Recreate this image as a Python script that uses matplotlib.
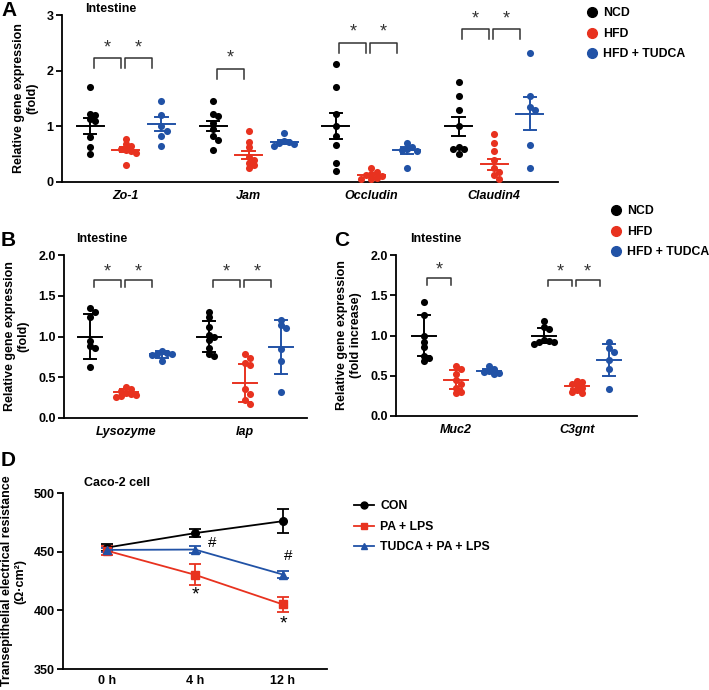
import numpy as np
import matplotlib
matplotlib.use("Agg")
import matplotlib.pyplot as plt
from matplotlib.lines import Line2D

plt.rcParams['font.family'] = ['Liberation Sans', 'DejaVu Sans']
plt.rcParams['font.weight'] = 'bold'
plt.rcParams['axes.labelweight'] = 'bold'

BLACK = '#000000'
RED = '#E8321F'
BLUE = '#2152A6'
GROUP_COLORS = [BLACK, RED, BLUE]
GROUP_NAMES = ['NCD', 'HFD', 'HFD + TUDCA']
FS = 9
LFS = 8.8

# ---- panel A (mean +/- SEM) ----
a_genes = ['Zo-1', 'Jam', 'Occludin', 'Claudin4']
a_ncd = [[1.70, 1.22, 1.20, 1.13, 1.10, 0.80, 0.62, 0.50],
         [1.46, 1.22, 1.18, 1.06, 0.96, 0.82, 0.75, 0.58],
         [2.12, 1.70, 1.22, 1.00, 0.82, 0.67, 0.35, 0.20],
         [1.80, 1.55, 1.30, 1.00, 0.62, 0.60, 0.60, 0.50]]
a_hfd = [[0.77, 0.68, 0.65, 0.60, 0.58, 0.55, 0.52, 0.30],
         [0.92, 0.72, 0.62, 0.45, 0.40, 0.35, 0.30, 0.25],
         [0.25, 0.18, 0.15, 0.12, 0.10, 0.08, 0.06, 0.05],
         [0.86, 0.70, 0.55, 0.40, 0.25, 0.18, 0.12, 0.05]]
a_tud = [[1.46, 1.20, 1.00, 0.92, 0.82, 0.65],
         [0.88, 0.73, 0.72, 0.70, 0.68, 0.65],
         [0.70, 0.62, 0.60, 0.58, 0.55, 0.25],
         [2.32, 1.55, 1.35, 1.30, 0.67, 0.25]]
a_mean = [[1.01, 0.58, 1.04], [1.00, 0.48, 0.72], [1.01, 0.12, 0.57], [1.00, 0.32, 1.23]]
a_err = [[0.14, 0.05, 0.12], [0.09, 0.07, 0.03], [0.23, 0.03, 0.06], [0.17, 0.10, 0.30]]
a_sig = [[True, True], [True, False], [True, True], [True, True]]
a_bracket_y = [2.22, 2.03, 2.50, 2.74]

# ---- panel B (mean +/- SD) ----
b_genes = ['Lysozyme', 'Iap']
b_ncd = [[1.35, 1.30, 1.24, 0.95, 0.88, 0.86, 0.62],
         [1.30, 1.24, 1.12, 1.02, 1.00, 0.96, 0.86, 0.78, 0.76]]
b_hfd = [[0.38, 0.36, 0.33, 0.31, 0.30, 0.28, 0.27, 0.26],
         [0.78, 0.74, 0.67, 0.65, 0.35, 0.30, 0.22, 0.17]]
b_tud = [[0.82, 0.80, 0.79, 0.78, 0.77, 0.70],
         [1.20, 1.14, 1.10, 0.85, 0.70, 0.32]]
b_mean = [[1.00, 0.32, 0.78], [1.00, 0.43, 0.87]]
b_err = [[0.27, 0.04, 0.04], [0.19, 0.23, 0.33]]
b_sig = [[True, True], [True, True]]
b_bracket_y = [1.69, 1.69]

# ---- panel C (mean +/- SD) ----
c_genes = ['Muc2', 'C3gnt']
c_ncd = [[1.42, 1.25, 1.00, 0.92, 0.86, 0.75, 0.72, 0.68],
         [1.18, 1.10, 1.08, 0.95, 0.93, 0.92, 0.92, 0.90]]
c_hfd = [[0.62, 0.58, 0.52, 0.45, 0.40, 0.35, 0.30, 0.28],
         [0.44, 0.42, 0.40, 0.38, 0.35, 0.32, 0.30, 0.28]]
c_tud = [[0.62, 0.58, 0.56, 0.55, 0.54, 0.52],
         [0.92, 0.84, 0.80, 0.70, 0.58, 0.34]]
c_mean = [[1.00, 0.45, 0.56], [1.00, 0.37, 0.70]]
c_err = [[0.25, 0.12, 0.03], [0.09, 0.04, 0.20]]
c_sig = [[True, False], [True, True]]
c_bracket_y = [1.71, 1.69]

# ---- panel D (TEER) ----
d_times = ['0 h', '4 h', '12 h']
d_con = [453.5, 465.8, 476.0]
d_con_err = [3.0, 3.5, 10.0]
d_pa = [450.8, 430.3, 405.0]
d_pa_err = [4.0, 9.0, 6.0]
d_tud = [451.5, 451.8, 430.5]
d_tud_err = [2.0, 3.0, 3.0]


def swarm(vals, px_per_y, px_per_x, d=5.0):
    # simple beeswarm, dots may overlap a little like in Prism
    order = np.argsort(vals)[::-1]
    placed = []
    offs = np.zeros(len(vals))
    for i in order:
        y = vals[i] * px_per_y
        for k in range(0, 20):
            cand = 0 if k == 0 else ((k + 1) // 2) * d * (1 if k % 2 else -1)
            ok = all((cand - px) ** 2 + (y - py) ** 2 >= (d * 0.9) ** 2 for px, py in placed)
            if ok:
                break
        placed.append((cand, y))
        offs[i] = cand / px_per_x
    return offs


def dot_panel(ax, genes, ncd, hfd, tud, means, errs, sig, br_y, px_y, star_dy, br_leg,
              spread=0.29, mean_w=0.11, cap_w=0.05):
    groups = [ncd, hfd, tud]
    for gi in range(len(genes)):
        for k in range(3):
            x0 = gi + (k - 1) * spread
            vals = np.array(groups[k][gi])
            xs = x0 + swarm(vals, px_y, 120)
            ax.scatter(xs, vals, s=26, color=GROUP_COLORS[k], zorder=3, linewidths=0)
            m = means[gi][k]
            e = errs[gi][k]
            ax.plot([x0 - mean_w, x0 + mean_w], [m, m], color=GROUP_COLORS[k], lw=1.4, zorder=4)
            ax.plot([x0, x0], [m - e, m + e], color=GROUP_COLORS[k], lw=1.4, zorder=4)
            for yy in (m - e, m + e):
                ax.plot([x0 - cap_w, x0 + cap_w], [yy, yy], color=GROUP_COLORS[k], lw=1.4, zorder=4)
        yb = br_y[gi]
        spans = [(gi - spread + 0.03, gi - 0.04), (gi - 0.01, gi + spread - 0.08)]
        for j, (x1, x2) in enumerate(spans):
            if not sig[gi][j]:
                continue
            ax.plot([x1, x1, x2, x2], [yb - br_leg, yb, yb, yb - br_leg], color='#333333',
                    lw=1.1, clip_on=False)
            ax.text((x1 + x2) / 2, yb + star_dy, '*', ha='center', va='center', fontsize=13,
                    fontweight='normal', color='#333333')
    ax.set_xlim(-0.52, len(genes) - 0.48)
    ax.set_xticks(range(len(genes)))
    ax.set_xticklabels(genes, fontstyle='italic', fontweight='bold', fontsize=FS)


def style(ax):
    for s in ('top', 'right'):
        ax.spines[s].set_visible(False)
    for s in ('left', 'bottom'):
        ax.spines[s].set_linewidth(1.3)
    ax.tick_params(axis='y', direction='out', length=4, width=1.3, labelsize=FS, pad=2)
    ax.tick_params(axis='x', length=0, labelsize=FS, pad=6)
    for lab in ax.get_yticklabels():
        lab.set_fontweight('bold')


fig = plt.figure(figsize=(7.09, 6.90), dpi=100)
W, H = 709, 690


def add_ax(l, t, r, b):
    return fig.add_axes([l / W, 1 - b / H, (r - l) / W, (b - t) / H])


# panel A
axA = add_ax(62, 15, 558, 182)
dot_panel(axA, a_genes, a_ncd, a_hfd, a_tud, a_mean, a_err, a_sig, a_bracket_y,
          55.7, 0.19, 0.18)
axA.set_ylim(0, 3)
axA.set_yticks([0, 1, 2, 3])
style(axA)
axA.set_ylabel('Relative gene expression\n(fold)', fontsize=FS, labelpad=6)
axA.text(0.046, 1.0, 'Intestine', transform=axA.transAxes, fontsize=FS, fontweight='bold',
         va='bottom')
legA = [Line2D([], [], marker='o', ls='', color=c, markersize=7, label=n)
        for c, n in zip(GROUP_COLORS, GROUP_NAMES)]
fig.legend(handles=legA, loc='upper left', bbox_to_anchor=(577 / W, 1 - 0 / H), frameon=False,
           fontsize=LFS, handletextpad=0.3, labelspacing=0.7, handlelength=1.2,
           borderaxespad=0.2)

# panel B
axB = add_ax(64, 255, 307, 418)
dot_panel(axB, b_genes, b_ncd, b_hfd, b_tud, b_mean, b_err, b_sig, b_bracket_y,
          81.5, 0.1, 0.08, spread=0.30, mean_w=0.1, cap_w=0.05)
axB.set_ylim(0, 2.0)
axB.set_yticks([0, 0.5, 1.0, 1.5, 2.0])
axB.set_yticklabels(['0.0', '0.5', '1.0', '1.5', '2.0'])
style(axB)
axB.set_ylabel('Relative gene expression\n(fold)', fontsize=FS, labelpad=6)
axB.text(0.05, 1.06, 'Intestine', transform=axB.transAxes, fontsize=FS, fontweight='bold',
         va='bottom')

# panel C
axC = add_ax(396, 255, 637, 416)
dot_panel(axC, c_genes, c_ncd, c_hfd, c_tud, c_mean, c_err, c_sig, c_bracket_y,
          80.3, 0.1, 0.08, spread=0.27, mean_w=0.1, cap_w=0.05)
axC.set_xlim(-0.5, 1.5)
axC.set_ylim(0, 2.0)
axC.set_yticks([0, 0.5, 1.0, 1.5, 2.0])
axC.set_yticklabels(['0.0', '0.5', '1.0', '1.5', '2.0'])
style(axC)
axC.set_ylabel('Relative gene expression\n(fold increase)', fontsize=FS, labelpad=6)
axC.text(0.06, 1.06, 'Intestine', transform=axC.transAxes, fontsize=FS, fontweight='bold',
         va='bottom')
fig.legend(handles=legA, loc='upper left', bbox_to_anchor=(601 / W, 1 - 198 / H), frameon=False,
           fontsize=LFS, handletextpad=0.3, labelspacing=0.7, handlelength=1.2,
           borderaxespad=0.2)

# panel D
axD = add_ax(63, 493, 327, 669)
xd = np.arange(len(d_times))
series = [(d_con, d_con_err, BLACK, 'o', 'CON'),
          (d_pa, d_pa_err, RED, 's', 'PA + LPS'),
          (d_tud, d_tud_err, BLUE, '^', 'TUDCA + PA + LPS')]
handles = []
for vals, errs, col, mk, name in series:
    axD.errorbar(xd, vals, yerr=errs, color=col, marker=mk, markersize=5.5, lw=1.3,
                 capsize=4, capthick=1.3, elinewidth=1.3, label=name)
    handles.append(Line2D([], [], color=col, marker=mk, markersize=5, lw=1.3, label=name))
axD.text(xd[1] + 0.2, 457.5, '#', ha='center', va='center', fontsize=11, fontweight='normal')
axD.text(xd[2] + 0.06, 446, '#', ha='center', va='center', fontsize=11, fontweight='normal')
axD.text(xd[1], 413, '*', ha='center', va='center', fontsize=14, fontweight='normal')
axD.text(xd[2], 388.5, '*', ha='center', va='center', fontsize=14, fontweight='normal')
axD.set_xlim(-0.5, 2.5)
axD.set_ylim(350, 500)
axD.set_yticks([350, 400, 450, 500])
axD.set_xticks(xd)
axD.set_xticklabels(d_times, fontweight='bold')
style(axD)
axD.tick_params(axis='x', length=0, pad=4)
axD.set_ylabel('Transepithelial electrical resistance\n(\u03a9\u00b7cm\u00b2)', fontsize=FS,
               labelpad=5)
axD.text(0.08, 1.025, 'Caco-2 cell', transform=axD.transAxes, fontsize=FS, fontweight='bold',
         va='bottom')
fig.legend(handles=handles, loc='upper left', bbox_to_anchor=(347 / W, 1 - 493 / H),
           frameon=False, fontsize=LFS, handletextpad=0.5, labelspacing=0.7,
           handlelength=1.6, borderaxespad=0.2)

# panel letters
for lab, x, y in [('A', 1, 1), ('B', 1, 231), ('C', 334, 231), ('D', 1, 451)]:
    fig.text(x / W, 1 - y / H, lab, fontsize=15, fontweight='bold', va='top', ha='left')

fig.savefig('out.png', dpi=100)
